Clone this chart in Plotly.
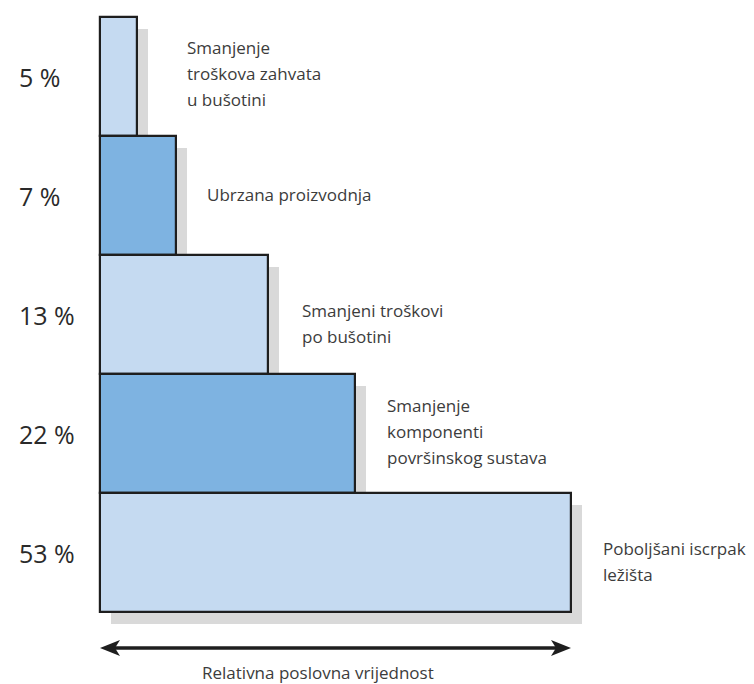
import plotly.graph_objects as go

# ---- data ----
percent_labels = ["5 %", "7 %", "13 %", "22 %", "53 %"]
relative_value = [0.079, 0.161, 0.357, 0.541, 1.0]
descriptions = [
    ["Smanjenje", "troškova zahvata", "u bušotini"],
    ["Ubrzana proizvodnja"],
    ["Smanjeni troškovi", "po bušotini"],
    ["Smanjenje", "komponenti", "površinskog sustava"],
    ["Poboljšani iscrpak", "ležišta"],
]
axis_title = "Relativna poslovna vrijednost"
fill_colors = ["#c5daf1", "#7eb3e1", "#c5daf1", "#7eb3e1", "#c5daf1"]

# ---- layout geometry (page pixels) ----
W, H = 754, 684
PAGE_OFF = 8                      # body margin of the html page
X0_PX, X1_PX = 100, 571           # value 0 and value 1
ROW_H = 119
ROW0_CENTER = 76.5
SCALE = X1_PX - X0_PX

def px_x(p):
    return (p - X0_PX) / SCALE

def px_y(p):
    return (p - ROW0_CENTER) / ROW_H

n = len(relative_value)
idx = list(range(n))

fig = go.Figure()

# shadows
fig.add_trace(go.Bar(
    y=[i + 12 / ROW_H for i in idx], x=relative_value,
    base=[11 / SCALE] * n, orientation="h", width=1,
    marker=dict(color="#d9d9d9", line=dict(width=0)),
    hoverinfo="skip", showlegend=False,
))
# main bars
fig.add_trace(go.Bar(
    y=idx, x=relative_value, base=[0] * n, orientation="h", width=1,
    marker=dict(color=fill_colors, line=dict(color="#1e1e1e", width=2.2)),
    showlegend=False,
))

annotations = []
# percent labels on the left
for i, lab in enumerate(percent_labels):
    annotations.append(dict(
        x=px_x(17), y=i, xref="x", yref="y", text=lab, showarrow=False,
        xanchor="left", yanchor="middle",
        font=dict(family="Open Sans", size=25, color="#2a2a2a"),
    ))

# descriptions on the right
gaps = [48, 29, 32, 30, 30]
center_shift = [-3.5, -1.5, 8.5, -2.5, 8.5]
line_gap = 26
for i, lines in enumerate(descriptions):
    bar_end_px = X0_PX + relative_value[i] * SCALE
    cy = ROW0_CENTER + ROW_H * i + center_shift[i]
    k = len(lines)
    for j, t in enumerate(lines):
        ypx = cy + (j - (k - 1) / 2) * line_gap
        annotations.append(dict(
            x=px_x(bar_end_px + gaps[i]), y=px_y(ypx), xref="x", yref="y",
            text=t, showarrow=False, xanchor="left", yanchor="middle",
            font=dict(family="Open Sans", size=17, color="#3c3c3c"),
        ))

# axis title below arrow
annotations.append(dict(
    x=px_x(318), y=px_y(672), xref="x", yref="y", text=axis_title,
    showarrow=False, xanchor="center", yanchor="middle",
    font=dict(family="Open Sans", size=17, color="#3c3c3c"),
))

# double-headed arrow
ay = px_y(648)
shapes = [
    dict(type="line", xref="x", yref="y", x0=px_x(112), x1=px_x(558),
         y0=ay, y1=ay, line=dict(color="#1e1e1e", width=3.5)),
    dict(type="path", xref="x", yref="y", fillcolor="#1e1e1e",
         line=dict(width=0),
         path=f"M {px_x(100)} {ay} L {px_x(120)} {px_y(640)} L {px_x(115)} {ay} L {px_x(120)} {px_y(656)} Z"),
    dict(type="path", xref="x", yref="y", fillcolor="#1e1e1e",
         line=dict(width=0),
         path=f"M {px_x(571)} {ay} L {px_x(551)} {px_y(640)} L {px_x(556)} {ay} L {px_x(551)} {px_y(656)} Z"),
]

fig.update_layout(
    width=W - PAGE_OFF, height=H - PAGE_OFF,
    margin=dict(l=0, r=0, t=0, b=0),
    paper_bgcolor="white", plot_bgcolor="white",
    barmode="overlay", bargap=0,
    xaxis=dict(range=[px_x(PAGE_OFF), px_x(W)], visible=False, fixedrange=True),
    yaxis=dict(range=[px_y(H), px_y(PAGE_OFF)], visible=False, fixedrange=True),
    annotations=annotations, shapes=shapes,
)

fig.write_html("out.html")
